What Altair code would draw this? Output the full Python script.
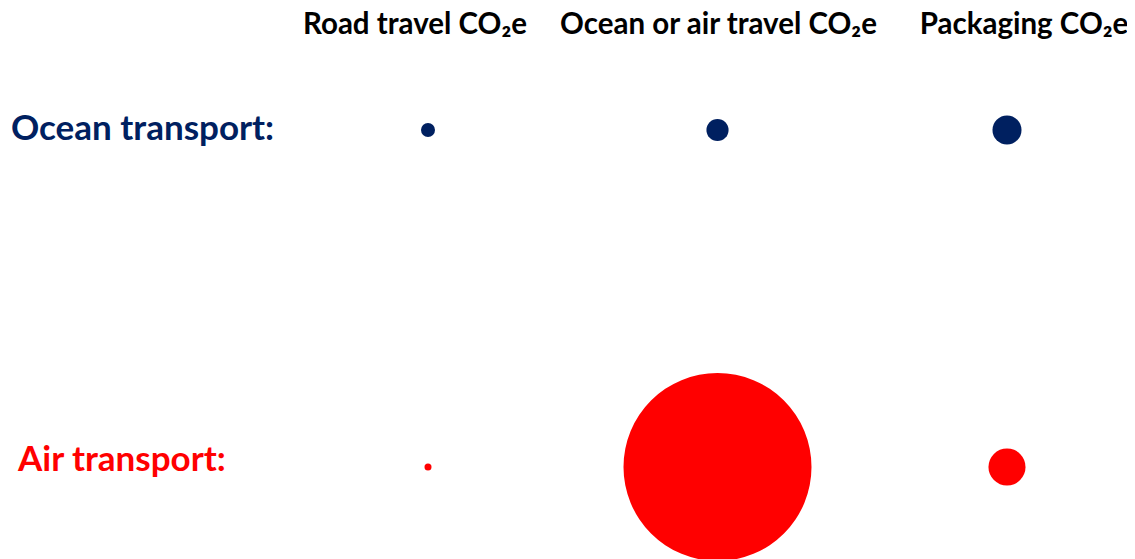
import altair as alt
import pandas as pd

columns = ["Road travel CO₂e", "Ocean or air travel CO₂e", "Packaging CO₂e"]
rows = ["Ocean transport:", "Air transport:"]
ocean_values = [0.1, 0.25, 0.43]
air_values = [0.025, 18.0, 0.7]
row_colors = ["#002060", "#FF0000"]

recs = []
for c, v in zip(columns, ocean_values):
    recs.append({"col": c, "row": rows[0], "value": v})
for c, v in zip(columns, air_values):
    recs.append({"col": c, "row": rows[1], "value": v})
df = pd.DataFrame(recs)

FONT = "Lato"

xscale = alt.Scale(type="point", domain=columns, range=[420, 999], padding=0)
yscale = alt.Scale(type="point", domain=rows, range=[122, 459], padding=0)

circles = alt.Chart(df).mark_circle(opacity=1).encode(
    x=alt.X("col:N", scale=xscale, axis=None),
    y=alt.Y("row:N", scale=yscale, axis=None),
    size=alt.Size("value:Q", scale=alt.Scale(type="linear", domain=[0, 18], range=[0, 35344]), legend=None),
    color=alt.Color("row:N", scale=alt.Scale(domain=rows, range=row_colors), legend=None),
)

hdr_df = pd.DataFrame({"col": columns})
header_dx = [-13, 1, 17]
headers = []
for c, dx in zip(columns, header_dx):
    headers.append(
        alt.Chart(hdr_df[hdr_df["col"] == c]).mark_text(
            font=FONT, fontSize=29.5, fontWeight="bold", color="black",
            align="center", baseline="alphabetic", dx=dx
        ).encode(
            x=alt.X("col:N", scale=xscale, axis=None),
            y=alt.value(26),
            text="col:N",
        )
    )

row_df = pd.DataFrame({"row": rows})
row_dx = [3, 10]
row_dy = [10, 4]
labels = []
for r, col, dx, dy in zip(rows, row_colors, row_dx, row_dy):
    labels.append(
        alt.Chart(row_df[row_df["row"] == r]).mark_text(
            font=FONT, fontSize=35, fontWeight="bold", color=col,
            align="left", baseline="alphabetic", dy=dy
        ).encode(
            x=alt.value(dx),
            y=alt.Y("row:N", scale=yscale, axis=None),
            text="row:N",
        )
    )

chart = alt.layer(circles, *headers, *labels).properties(
    width=1119, height=560,
    autosize=alt.AutoSizeParams(type="none"),
    padding=0,
).configure_view(stroke=None)

chart.save("out.html", embed_options={"renderer": "svg", "actions": False})
